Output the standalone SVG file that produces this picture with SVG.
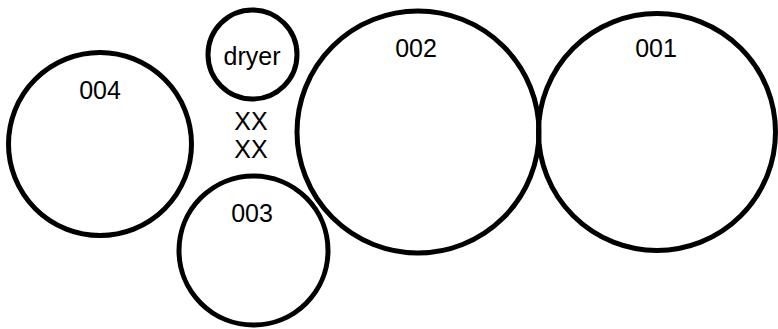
<svg xmlns="http://www.w3.org/2000/svg" width="778" height="329" viewBox="0 0 778 329">
<style>
.c{fill:none;stroke:#000;stroke-width:5}
.t{font-family:"Liberation Sans",Arial,sans-serif;font-size:25px;fill:#000;text-anchor:middle}
</style>
<rect width="778" height="329" fill="#fff"/>
<g id="node-004"><circle class="c" cx="100" cy="144" r="91.5"/><text class="t" x="100" y="99">004</text></g>
<g id="node-dryer"><circle class="c" cx="252.5" cy="54.5" r="44.5"/><text class="t" x="252" y="65">dryer</text></g>
<g id="node-003"><circle class="c" cx="253.5" cy="250.5" r="74.5"/><text class="t" x="252" y="222">003</text></g>
<g id="node-002"><circle class="c" cx="418" cy="132" r="121"/><text class="t" x="416" y="57">002</text></g>
<g id="node-001"><circle class="c" cx="657" cy="132" r="118.5"/><text class="t" x="656" y="57">001</text></g>
<g id="labels"><text class="t" x="251" y="130">XX</text><text class="t" x="251" y="158">XX</text></g>
<g id="connectors"></g>
</svg>
